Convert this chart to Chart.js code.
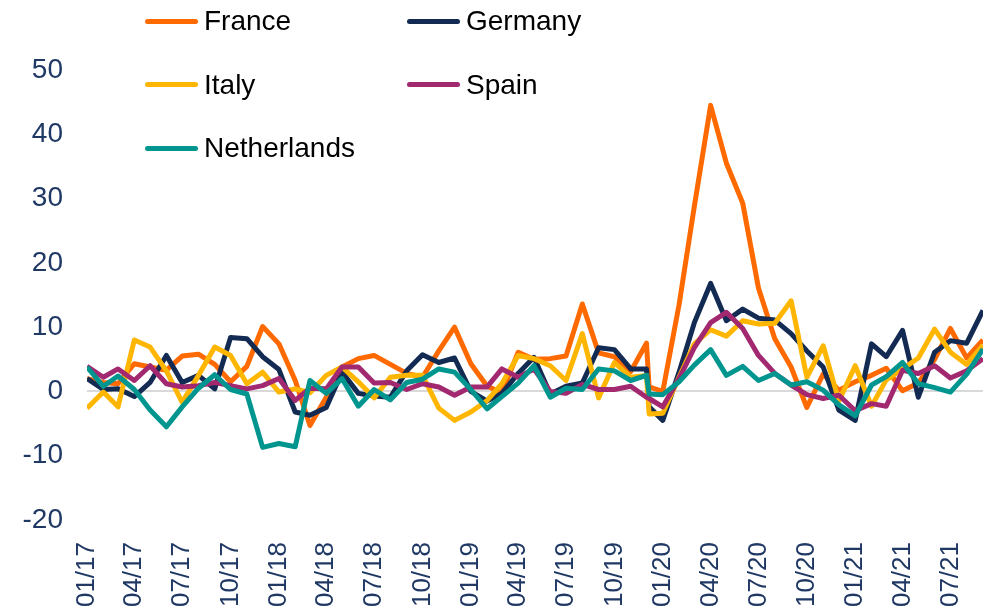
<!DOCTYPE html>
<html lang="en">
<head>
<meta charset="UTF-8">
<title>Monthly change by country</title>
<style>
  body { margin: 0; background: #fff; }
  #wrap { position: relative; width: 991px; height: 612px; }
  #legend { position: absolute; left: 0; top: 0; font-family: "Liberation Sans", Arial, sans-serif; font-size: 28px; color: #000; }
  .item { position: absolute; display: flex; align-items: center; height: 34px; white-space: nowrap; }
  .swatch { width: 53px; height: 5px; border-radius: 3px; margin-right: 6px; }
</style>
</head>
<body>
<div id="wrap">
  <canvas id="chart"></canvas>
  <div id="legend"></div>
</div>

<script src="https://cdn.jsdelivr.net/npm/chart.js"></script>
<script>
// monthly observations, plus one extra reading early in Dec 2019
const dates = [
  '2017-01','2017-02','2017-03','2017-04','2017-05','2017-06','2017-07','2017-08','2017-09','2017-10','2017-11','2017-12',
  '2018-01','2018-02','2018-03','2018-04','2018-05','2018-06','2018-07','2018-08','2018-09','2018-10','2018-11','2018-12',
  '2019-01','2019-02','2019-03','2019-04','2019-05','2019-06','2019-07','2019-08','2019-09','2019-10','2019-11','2019-12','2019-12-06',
  '2020-01','2020-02','2020-03','2020-04','2020-05','2020-06','2020-07','2020-08','2020-09','2020-10','2020-11','2020-12',
  '2021-01','2021-02','2021-03','2021-04','2021-05','2021-06','2021-07','2021-08','2021-09'
];

const france = [
  2.0, 1.4, 1.2, 4.3, 3.8, 3.3, 5.5, 5.8, 4.2, 1.5, 3.9, 10.1,
  7.4, 1.7, -5.3, -0.9, 3.8, 5.1, 5.6, 4.2, 2.8, 2.2, 6.3, 10.0,
  4.3, 0.8, -0.2, 6.1, 5.0, 5.1, 5.5, 13.6, 6.0, 5.4, 3.1, 7.5, 0.7,
  0.0, 13.5, 28.8, 44.5, 35.5, 29.3, 16.1, 8.2, 3.8, -2.5, 2.7, 0.2,
  1.5, 2.5, 3.6, 0.1, 1.3, 5.0, 9.8, 5.2, 8.0
];
const germany = [
  2.0, 0.3, 0.4, -0.8, 1.4, 5.6, 1.4, 2.5, 0.4, 8.4, 8.2, 5.4,
  3.4, -3.2, -3.7, -2.5, 3.0, -0.3, -0.7, -0.9, 3.2, 5.7, 4.5, 5.2,
  0.0, -1.5, -0.3, 2.8, 5.3, -0.4, 0.8, 1.3, 6.8, 6.5, 3.5, 3.5, -2.4,
  -4.5, 3.0, 10.7, 16.8, 11.0, 12.8, 11.4, 11.1, 9.0, 6.3, 3.8, -2.9,
  -4.5, 7.4, 5.4, 9.5, -0.9, 6.1, 7.9, 7.5, 12.6
];
const italy = [
  -2.6, -0.1, -2.4, 8.0, 6.9, 3.2, -1.7, 2.5, 6.9, 5.6, 1.2, 3.0,
  -0.1, 0.4, -0.2, 2.5, 3.8, 1.5, -1.0, 2.2, 2.5, 2.5, -2.6, -4.5,
  -3.2, -1.4, 1.2, 5.6, 5.1, 4.0, 1.7, 9.0, -1.0, 4.5, 2.2, 2.5, -3.5,
  -3.4, 2.2, 7.4, 9.6, 8.6, 11.0, 10.5, 10.6, 14.1, 2.2, 7.1, -1.5,
  4.0, -2.3, 1.8, 3.5, 5.2, 9.7, 6.1, 4.2, 7.2
];
const spain = [
  3.9, 2.2, 3.5, 1.7, 4.0, 1.2, 0.7, 0.9, 1.4, 0.9, 0.4, 0.9,
  2.0, -1.4, 0.5, 0.4, 3.8, 3.8, 1.3, 1.4, 0.3, 1.2, 0.7, -0.6,
  0.7, 0.7, 3.5, 2.2, 3.5, 0.0, -0.3, 1.1, 0.3, 0.3, 0.8, -0.9, -1.1,
  -2.4, 2.0, 6.8, 10.7, 12.3, 9.8, 5.6, 2.8, 1.0, -0.5, -1.1, -0.6,
  -3.0, -1.9, -2.3, 3.3, 2.8, 4.0, 2.1, 3.2, 5.1
];
const netherlands = [
  3.8, 0.8, 2.4, 0.3, -2.9, -5.5, -2.4, 0.5, 2.6, 0.3, -0.4, -8.7,
  -8.1, -8.6, 1.7, -0.3, 2.0, -2.3, 0.3, -1.3, 1.4, 1.9, 3.5, 3.0,
  0.3, -2.7, -0.8, 1.3, 4.0, -0.9, 0.5, 0.3, 3.5, 3.2, 1.7, 2.5, -0.4,
  -0.5, 1.5, 4.1, 6.5, 2.5, 3.9, 1.7, 2.8, 1.0, 1.5, 0.2, -2.1,
  -3.8, 1.0, 2.3, 4.5, 1.2, 0.6, -0.1, 2.7, 6.6
];

const tickLabels = ['01/17','04/17','07/17','10/17','01/18','04/18','07/18','10/18','01/19','04/19',
                    '07/19','10/19','01/20','04/20','07/20','10/20','01/21','04/21','07/21'];

const names = ['France', 'Germany', 'Italy', 'Spain', 'Netherlands'];
const colors = ['#FF6A00', '#132A52', '#FFB600', '#A2296F', '#00958F'];
const series = [france, germany, italy, spain, netherlands];

const navy = '#1F3864';
const fontFamily = '"Liberation Sans", Arial, sans-serif';

// days since 1 Jan 2017, so the axis keeps real month lengths
function toDay(s) {
  const p = s.split('-');
  return (Date.UTC(+p[0], +p[1] - 1, +(p[2] || 1)) - Date.UTC(2017, 0, 1)) / 864e5;
}
const xs = dates.map(toDay);
const tickDays = tickLabels.map(t => {
  const [m, y] = t.split('/');
  return toDay('20' + y + '-' + m);
});

// legend, two columns like the original
const legend = document.getElementById('legend');
names.forEach((n, i) => {
  const col = i % 2, row = Math.floor(i / 2);
  const item = document.createElement('div');
  item.className = 'item';
  item.style.left = (145 + col * 262) + 'px';
  item.style.top = (21 + row * 63.5 - 17) + 'px';
  item.innerHTML = `<span class="swatch" style="background:${colors[i]}"></span><span>${n}</span>`;
  legend.appendChild(item);
});

const ctx = document.getElementById('chart').getContext('2d');
new Chart(ctx, {
  type: 'line',
  data: {
    datasets: series.map((vals, i) => ({
      label: names[i],
      data: vals.map((v, j) => ({ x: xs[j], y: v })),
      borderColor: colors[i],
      backgroundColor: colors[i],
      borderWidth: 5,
      pointRadius: 0,
      tension: 0,
      borderJoinStyle: 'round',
      order: names.length - i
    }))
  },
  options: {
    responsive: true,
    maintainAspectRatio: false,
    animation: false,
    layout: { padding: { left: 0, right: 8, top: 70, bottom: 0 } },
    plugins: { legend: { display: false }, tooltip: { enabled: false } },
    scales: {
      x: {
        type: 'linear',
        min: 0,
        max: xs[xs.length - 1],
        grid: { display: false, drawTicks: false },
        border: { display: false },
        afterBuildTicks: s => { s.ticks = tickDays.map(v => ({ value: v })); },
        afterFit: s => { s.height = 92; s.paddingLeft = 0; s.paddingRight = 0; },
        ticks: {
          autoSkip: false,
          minRotation: 90,
          maxRotation: 90,
          padding: 22,
          color: navy,
          font: { family: fontFamily, size: 26 },
          callback: v => tickLabels[tickDays.indexOf(v)]
        }
      },
      y: {
        min: -20,
        max: 50,
        afterFit: s => { s.width = 87; },
        border: { display: false },
        grid: {
          drawTicks: false,
          lineWidth: 2,
          color: c => (c.tick && c.tick.value === 0) ? '#D9D9D9' : 'rgba(0,0,0,0)'
        },
        ticks: {
          stepSize: 10,
          padding: 24,
          color: navy,
          font: { family: fontFamily, size: 28 }
        }
      }
    }
  }
});
</script>
</body>
</html>
